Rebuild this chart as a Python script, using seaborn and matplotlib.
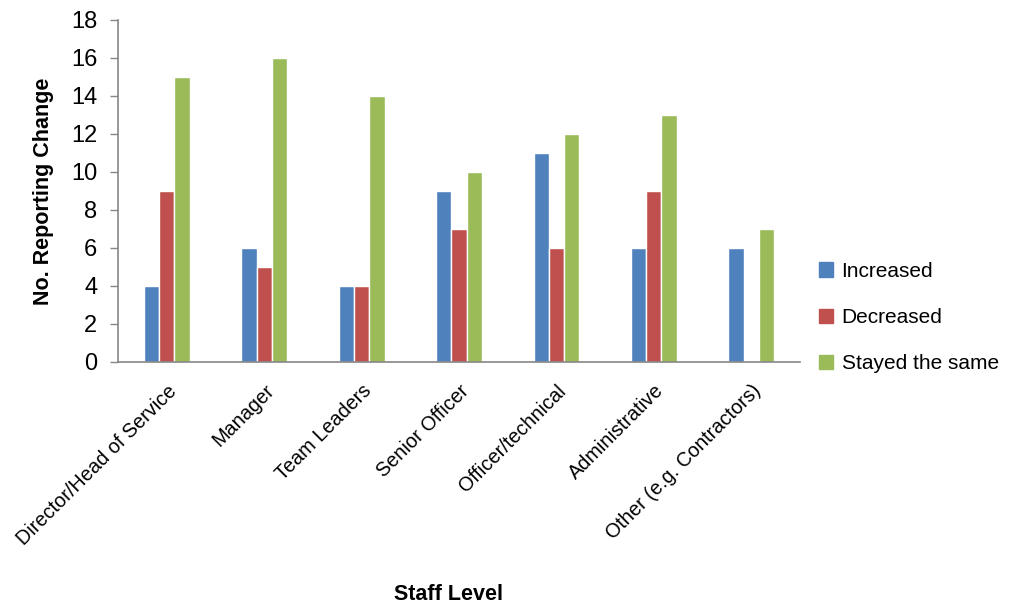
import matplotlib
matplotlib.use("Agg")
import matplotlib.pyplot as plt
import seaborn as sns
import pandas as pd

staff_levels = ['Director/Head of Service', 'Manager', 'Team Leaders', 'Senior Officer',
                'Officer/technical', 'Administrative', 'Other (e.g. Contractors)']
series_names = ['Increased', 'Decreased', 'Stayed the same']
increased = [4, 6, 4, 9, 11, 6, 6]
decreased = [9, 5, 4, 7, 6, 9, 0]
stayed = [15, 16, 14, 10, 12, 13, 7]
yticks = [0, 2, 4, 6, 8, 10, 12, 14, 16, 18]

df = pd.DataFrame({
    'Staff Level': staff_levels * 3,
    'Change': [s for s in series_names for _ in staff_levels],
    'Count': increased + decreased + stayed,
})

sns.set_style('white')
plt.rcParams['font.family'] = ['Liberation Sans', 'DejaVu Sans']
plt.rcParams['text.color'] = 'black'
plt.rcParams['axes.labelcolor'] = 'black'
plt.rcParams['xtick.color'] = 'black'
plt.rcParams['ytick.color'] = 'black'

colors = {'Increased': '#4F81BD', 'Decreased': '#C0504D', 'Stayed the same': '#9BBB59'}

fig = plt.figure(figsize=(10.1, 6.05), dpi=100)
ax = fig.add_axes([0.117, 0.402, 0.675, 0.565])
sns.barplot(data=df, x='Staff Level', y='Count', hue='Change', palette=colors,
            width=0.47, saturation=1, ax=ax, legend=False)

ax.set_ylim(0, 18)
ax.set_yticks(yticks)
ax.tick_params(axis='y', labelsize=17, length=6, width=1, color='#868686', direction='out',
               left=True, pad=9, labelcolor='black')
ax.tick_params(axis='x', labelsize=14.3, length=0, pad=14, labelcolor='black')
plt.setp(ax.get_xticklabels(), rotation=45, ha='right', rotation_mode='anchor')
for side in ['top', 'right']:
    ax.spines[side].set_visible(False)
for side in ['left', 'bottom']:
    ax.spines[side].set_color('#868686')
    ax.spines[side].set_linewidth(1.2)
ax.set_xlim(-0.5, 6.5)

ax.set_ylabel('No. Reporting Change', fontsize=15.5, fontweight='bold', labelpad=12)
ax.set_xlabel('Staff Level', fontsize=15.5, fontweight='bold')
ax.xaxis.set_label_coords(0.485, -0.65)

handles = [plt.Rectangle((0, 0), 1, 1, color=colors[s]) for s in series_names]
fig.legend(handles, series_names, loc='center left', bbox_to_anchor=(0.792, 0.475),
           frameon=False, fontsize=15, labelspacing=1.3, handlelength=0.7,
           handleheight=0.7, handletextpad=0.4)

fig.savefig('out.png', dpi=100)
